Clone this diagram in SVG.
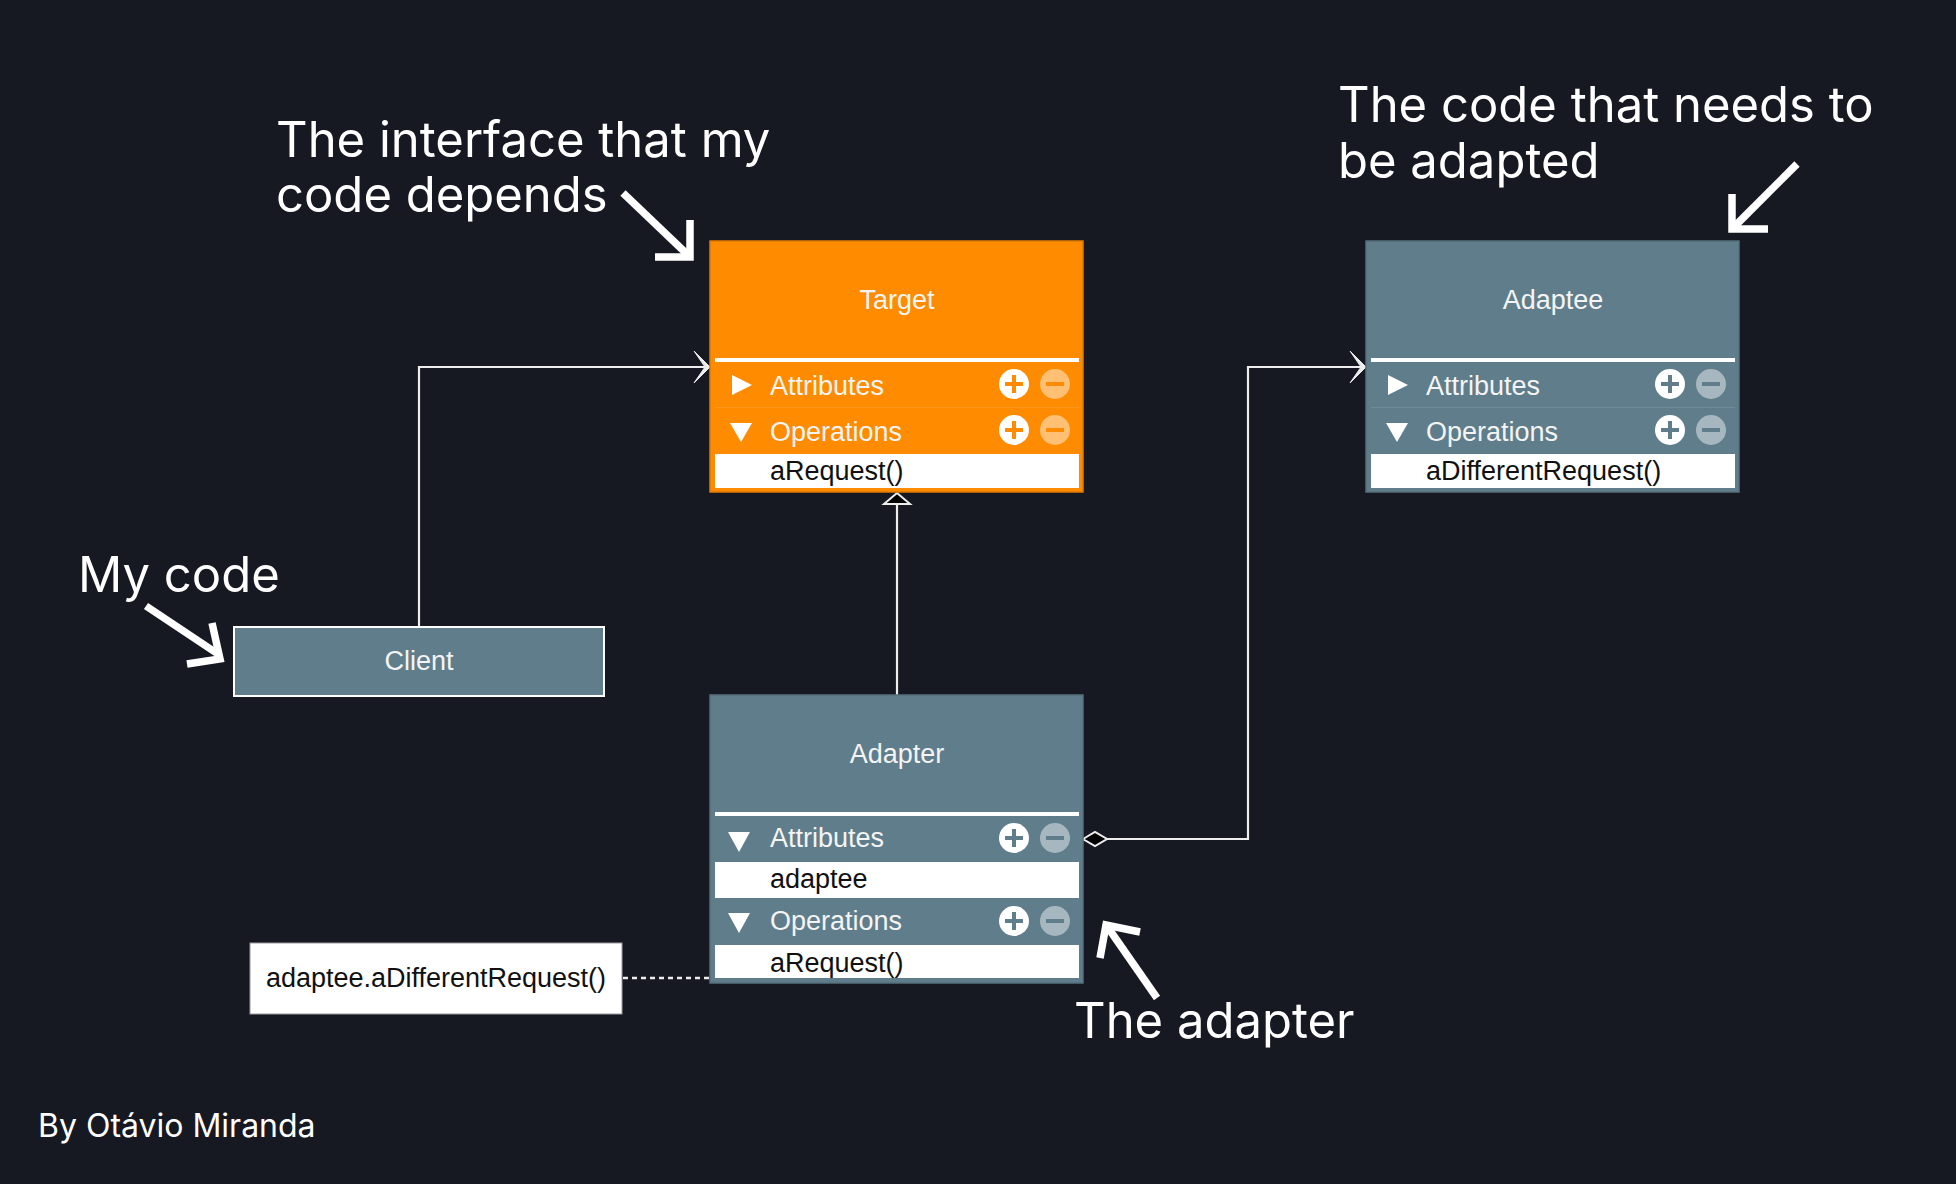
<svg xmlns="http://www.w3.org/2000/svg" width="1956" height="1184" viewBox="0 0 1956 1184">
<style>
.bg{fill:#161822}
.orange{fill:#FF8C00;stroke:#E07A00;stroke-width:1.5}
.slate{fill:#607D8B;stroke:#566F7C;stroke-width:1.5}
.sep{fill:#FFFFFF}
.row{fill:#FFFFFF}
.div{stroke:#FFFFFF;stroke-opacity:0.1;stroke-width:1}
.title{font-family:"Liberation Sans",Arial,sans-serif;font-size:27px;fill:#F4F4F4;text-anchor:middle}
.lbl{font-family:"Liberation Sans",Arial,sans-serif;font-size:27px;fill:#F4F4F4}
.item{font-family:"Liberation Sans",Arial,sans-serif;font-size:27px;fill:#111111}
.tri{fill:#FFFFFF}
.plus{fill:#FFFFFF}
.minus{fill:#FFFFFF;fill-opacity:0.45}
.ico-o{stroke:#FF8C00;stroke-width:4;fill:none}
.ico-s{stroke:#607D8B;stroke-width:4;fill:none}
.conn{stroke:#EDEDED;stroke-width:2.2;fill:none}
.head{fill:#EDEDED;stroke:#EDEDED;stroke-width:1;stroke-linejoin:miter}
.note{font-family:Inter,"Noto Sans",sans-serif;font-size:49px;fill:#FFFFFF}
.credit{font-family:Inter,"Noto Sans",sans-serif;font-size:32px;fill:#FFFFFF}
.ann{stroke:#FFFFFF;stroke-width:7.5;fill:none;stroke-linecap:butt;stroke-linejoin:miter}
</style>
<rect class="bg" x="0" y="0" width="1956" height="1184"/>

<g id="connectors">
  <!-- Client -> Target -->
  <polyline class="conn" points="419,627 419,367 706,367"/>
  <path class="head" d="M694,351 L710,367 L694,383 L705,367 Z"/>
  <!-- Adapter -> Target (realization) -->
  <line class="conn" x1="897" y1="695" x2="897" y2="504"/>
  <polygon points="897,493 910,504 884,504" fill="#000000" stroke="#EDEDED" stroke-width="2"/>
  <!-- Adapter aggregation -> Adaptee -->
  <polyline class="conn" points="1107,839 1248,839 1248,367 1362,367"/>
  <polygon points="1083,839 1095,832 1107,839 1095,846" fill="#000000" stroke="#EDEDED" stroke-width="2"/>
  <path class="head" d="M1350,351 L1366,367 L1350,383 L1361,367 Z"/>
  <!-- note dotted -->
  <line x1="623" y1="978" x2="710" y2="978" stroke="#EDEDED" stroke-width="2.5" stroke-dasharray="5 4"/>
</g>

<g id="target">
  <rect class="orange" x="710" y="241" width="373" height="251"/>
  <text class="title" x="897" y="309">Target</text>
  <rect class="sep" x="715" y="358" width="364" height="4"/>
  <line class="div" x1="715" y1="407.5" x2="1079" y2="407.5"/>
  <polygon class="tri" points="732,375 752,385 732,395"/>
  <text class="lbl" x="770" y="395">Attributes</text>
  <circle class="plus" cx="1014" cy="384" r="15"/>
  <path class="ico-o" d="M1005,384h18M1014,375v18"/>
  <circle class="minus" cx="1055" cy="384" r="15"/>
  <path class="ico-o" d="M1046,384h18"/>
  <polygon class="tri" points="730,423 752,423 741,442"/>
  <text class="lbl" x="770" y="441">Operations</text>
  <circle class="plus" cx="1014" cy="430" r="15"/>
  <path class="ico-o" d="M1005,430h18M1014,421v18"/>
  <circle class="minus" cx="1055" cy="430" r="15"/>
  <path class="ico-o" d="M1046,430h18"/>
  <rect class="row" x="715" y="454" width="364" height="34"/>
  <text class="item" x="770" y="480">aRequest()</text>
</g>

<g id="adaptee">
  <rect class="slate" x="1366" y="241" width="373" height="251"/>
  <text class="title" x="1553" y="309">Adaptee</text>
  <rect class="sep" x="1371" y="358" width="364" height="4"/>
  <line class="div" x1="1371" y1="407.5" x2="1735" y2="407.5"/>
  <polygon class="tri" points="1388,375 1408,385 1388,395"/>
  <text class="lbl" x="1426" y="395">Attributes</text>
  <circle class="plus" cx="1670" cy="384" r="15"/>
  <path class="ico-s" d="M1661,384h18M1670,375v18"/>
  <circle class="minus" cx="1711" cy="384" r="15"/>
  <path class="ico-s" d="M1702,384h18"/>
  <polygon class="tri" points="1386,423 1408,423 1397,442"/>
  <text class="lbl" x="1426" y="441">Operations</text>
  <circle class="plus" cx="1670" cy="430" r="15"/>
  <path class="ico-s" d="M1661,430h18M1670,421v18"/>
  <circle class="minus" cx="1711" cy="430" r="15"/>
  <path class="ico-s" d="M1702,430h18"/>
  <rect class="row" x="1371" y="454" width="364" height="34"/>
  <text class="item" x="1426" y="480">aDifferentRequest()</text>
</g>

<g id="adapter">
  <rect class="slate" x="710" y="695" width="373" height="288"/>
  <text class="title" x="897" y="763">Adapter</text>
  <rect class="sep" x="715" y="812" width="364" height="4"/>
  <polygon class="tri" points="728,832 750,832 739,852"/>
  <text class="lbl" x="770" y="847">Attributes</text>
  <circle class="plus" cx="1014" cy="838" r="15"/>
  <path class="ico-s" d="M1005,838h18M1014,829v18"/>
  <circle class="minus" cx="1055" cy="838" r="15"/>
  <path class="ico-s" d="M1046,838h18"/>
  <rect class="row" x="715" y="862" width="364" height="36"/>
  <text class="item" x="770" y="888">adaptee</text>
  <polygon class="tri" points="728,913 750,913 739,933"/>
  <text class="lbl" x="770" y="930">Operations</text>
  <circle class="plus" cx="1014" cy="921" r="15"/>
  <path class="ico-s" d="M1005,921h18M1014,912v18"/>
  <circle class="minus" cx="1055" cy="921" r="15"/>
  <path class="ico-s" d="M1046,921h18"/>
  <rect class="row" x="715" y="945" width="364" height="33"/>
  <text class="item" x="770" y="972">aRequest()</text>
</g>

<g id="client">
  <rect x="234" y="627" width="370" height="69" fill="#607D8B" stroke="#FFFFFF" stroke-width="2"/>
  <text class="title" x="419" y="670">Client</text>
</g>

<g id="code-note">
  <rect x="250" y="943" width="372" height="71" fill="#FFFFFF" stroke="#9A9A9A" stroke-width="1"/>
  <text class="item" x="436" y="987" text-anchor="middle">adaptee.aDifferentRequest()</text>
</g>

<g id="annotations">
  <text class="note" x="276" y="157">The interface that my</text>
  <text class="note" x="276" y="212">code depends</text>
  <line class="ann" x1="623" y1="193" x2="689" y2="256"/>
  <polyline class="ann" points="690,220 690,257 655,257"/>

  <text class="note" x="78" y="592">My code</text>
  <line class="ann" x1="146" y1="606" x2="218" y2="654"/>
  <polyline class="ann" points="212,623 220,659 187,664"/>

  <text class="note" x="1338" y="122">The code that needs to</text>
  <text class="note" x="1338" y="178">be adapted</text>
  <line class="ann" x1="1797" y1="164" x2="1734" y2="227"/>
  <polyline class="ann" points="1732,194 1732,229 1768,229"/>

  <text class="note" x="1074" y="1038">The adapter</text>
  <line class="ann" x1="1157" y1="998" x2="1109" y2="929"/>
  <polyline class="ann" points="1140,932 1106,925 1100,958"/>

  <text class="credit" x="38" y="1137">By Otávio Miranda</text>
</g>
</svg>
